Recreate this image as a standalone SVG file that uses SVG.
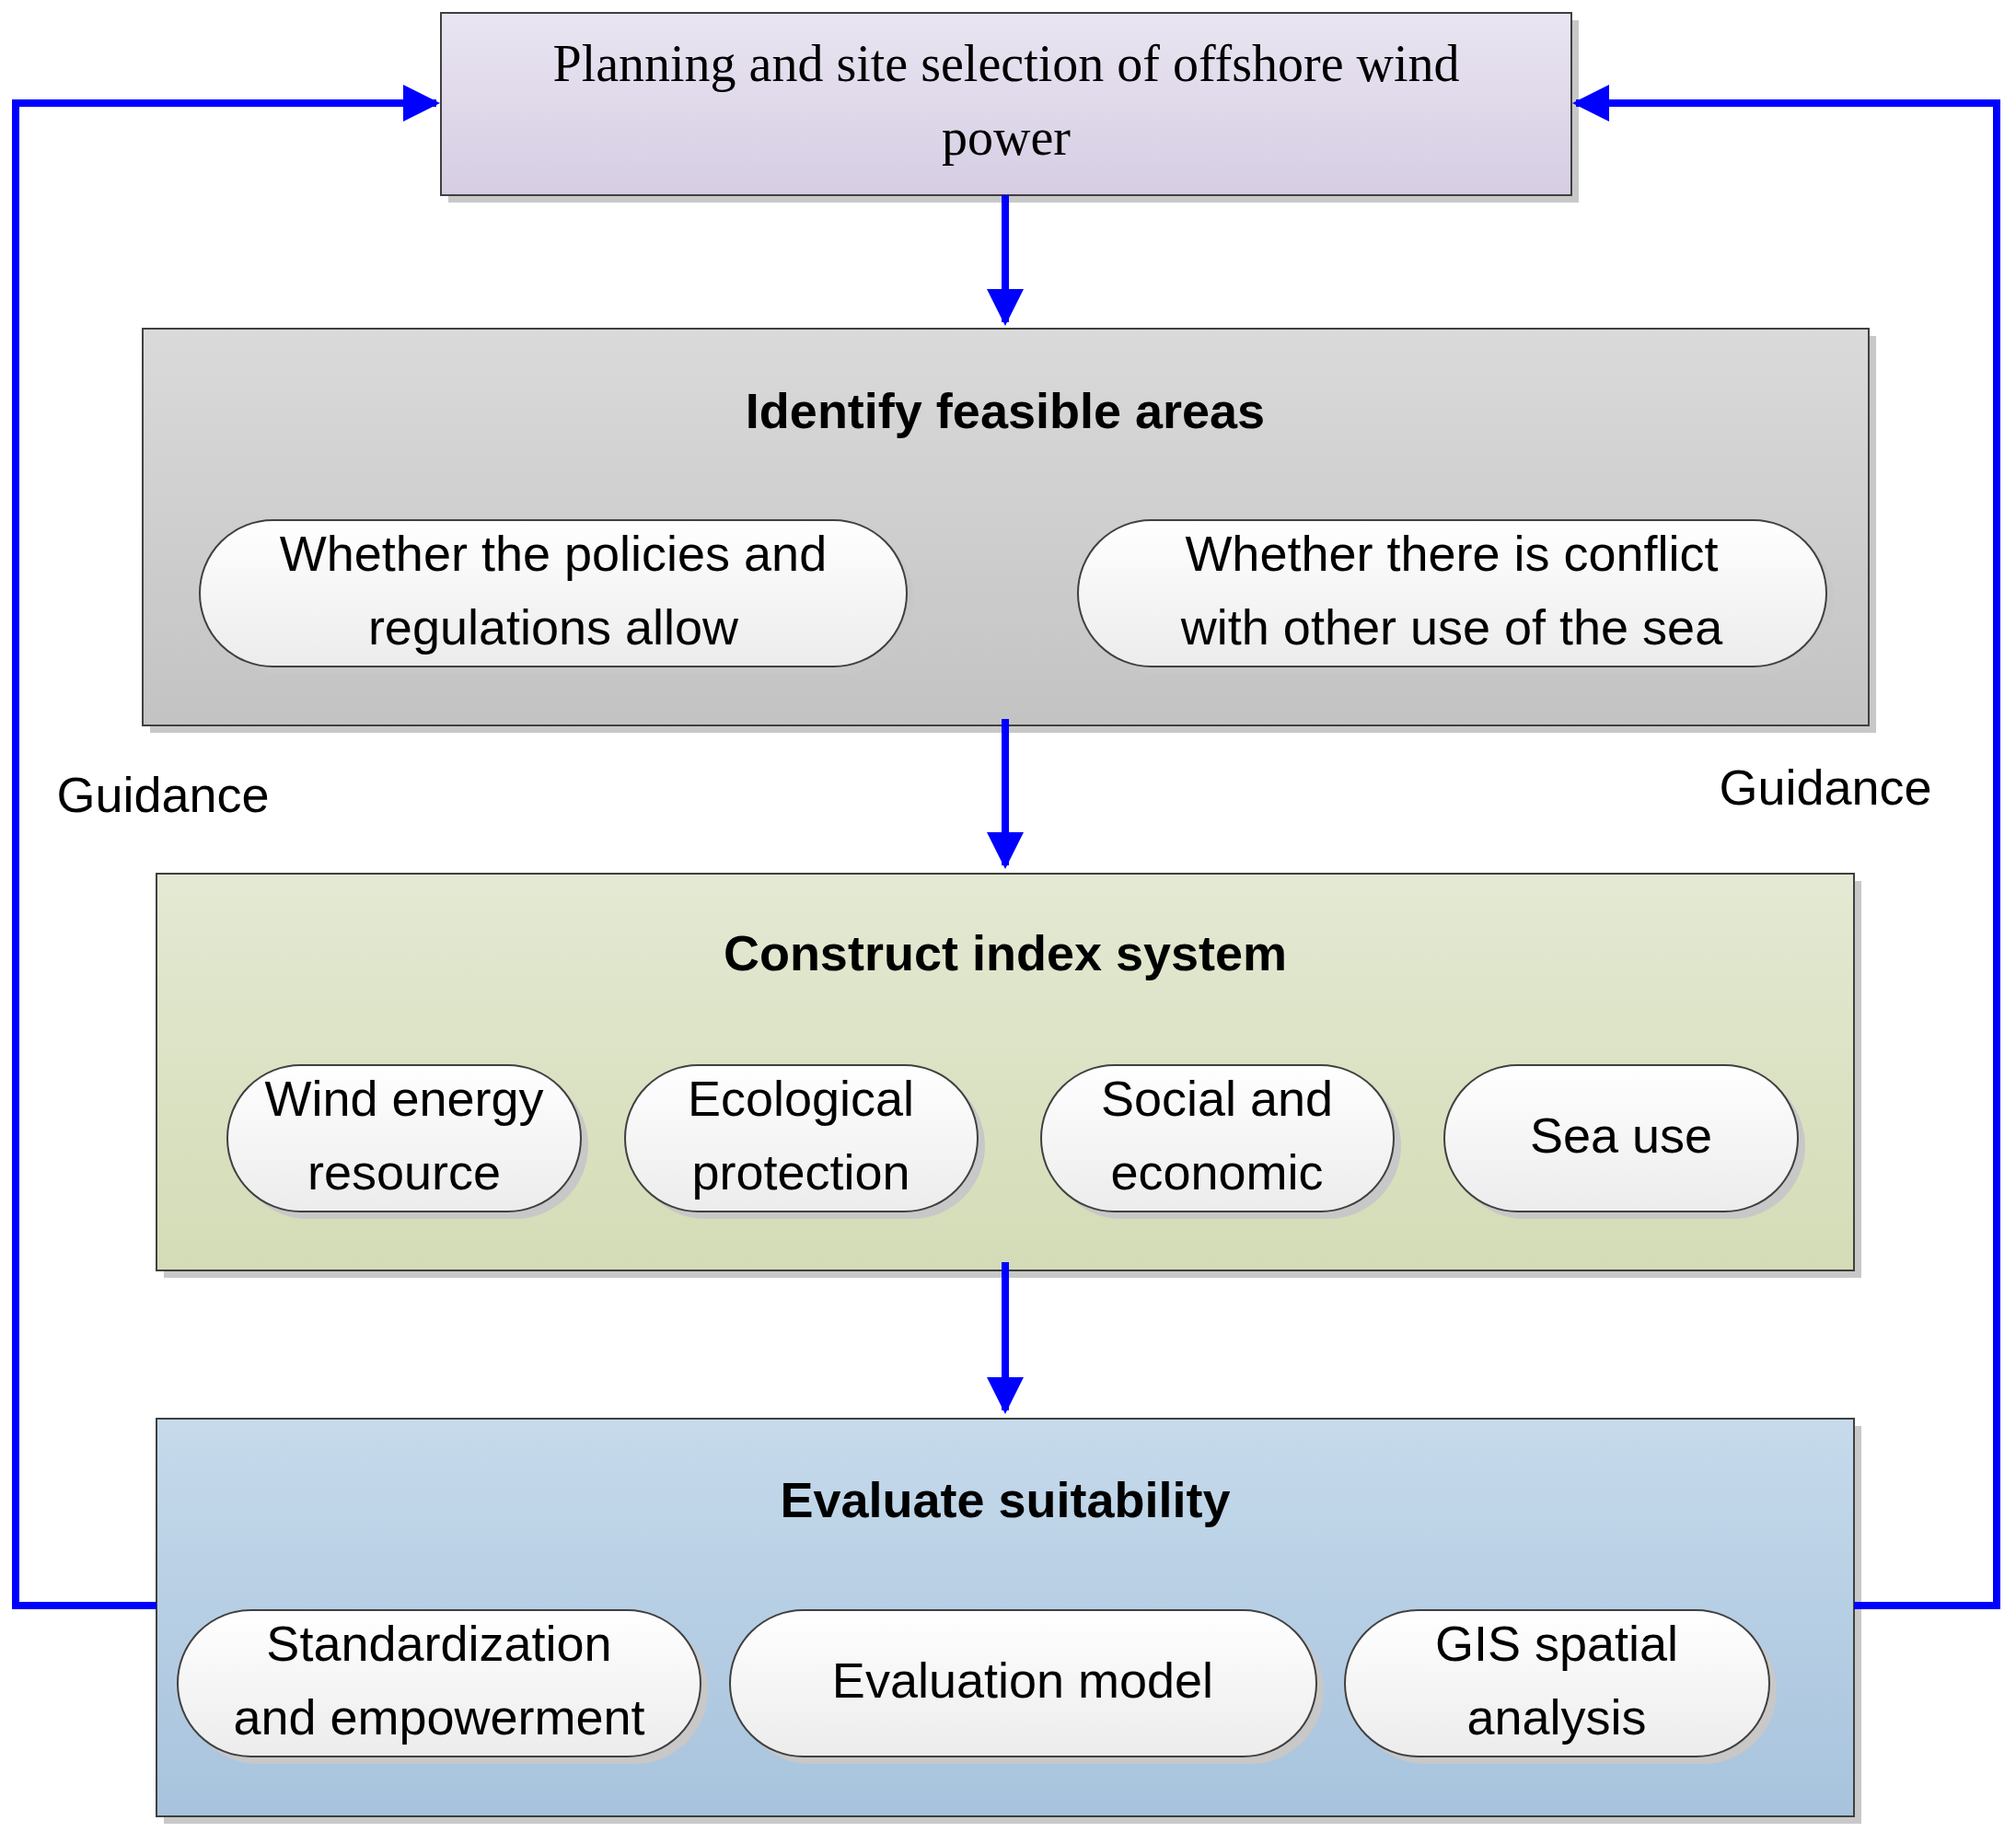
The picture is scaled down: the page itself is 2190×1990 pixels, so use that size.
<svg xmlns="http://www.w3.org/2000/svg" width="2190" height="1990" viewBox="0 0 2190 1990">
<defs>
<linearGradient id="g0" x1="0" y1="0" x2="0" y2="1"><stop offset="0" stop-color="#e9e5f1"/><stop offset="1" stop-color="#d6cde3"/></linearGradient>
<linearGradient id="g1" x1="0" y1="0" x2="0" y2="1"><stop offset="0" stop-color="#dadada"/><stop offset="1" stop-color="#c3c3c3"/></linearGradient>
<linearGradient id="g2" x1="0" y1="0" x2="0" y2="1"><stop offset="0" stop-color="#e4e9d3"/><stop offset="1" stop-color="#d3dcb6"/></linearGradient>
<linearGradient id="g3" x1="0" y1="0" x2="0" y2="1"><stop offset="0" stop-color="#c6daeb"/><stop offset="1" stop-color="#a7c3dd"/></linearGradient>
<linearGradient id="gp" x1="0" y1="0" x2="0" y2="1"><stop offset="0" stop-color="#ffffff"/><stop offset="1" stop-color="#ececec"/></linearGradient>
<marker id="ah" viewBox="0 0 10 10" refX="9" refY="5" markerWidth="5" markerHeight="5" orient="auto" markerUnits="strokeWidth"><path d="M0,0 L10,5 L0,10 z" fill="#0000ff"/></marker>
<style>
.box{stroke:#404040;stroke-width:2}
.sh{fill:#c8c8c8}
.pill{fill:url(#gp);stroke:#404040;stroke-width:2}
.t{font-family:"Liberation Sans",Arial,sans-serif;font-size:54px;fill:#000;text-anchor:middle}
.b{font-family:"Liberation Sans",Arial,sans-serif;font-size:54px;font-weight:bold;fill:#000;text-anchor:middle}
.s{font-family:"Liberation Serif","Times New Roman",serif;font-size:56px;fill:#000;text-anchor:middle}
.c{stroke:#0000ff;stroke-width:8;fill:none}
</style>
</defs>
<g id="n0"><rect class="sh" x="487" y="22" width="1228" height="198"/><rect class="box" x="479" y="14" width="1228" height="198" fill="url(#g0)"/>
<text class="s" x="1093" y="88">Planning and site selection of offshore wind</text><text class="s" x="1093" y="168">power</text></g>
<g id="n1"><rect class="sh" x="163" y="365" width="1875" height="431"/><rect class="box" x="155" y="357" width="1875" height="431" fill="url(#g1)"/>
<text class="b" x="1092" y="465">Identify feasible areas</text>
<rect class="sh" x="225" y="573" width="768" height="159" rx="79.5"/><rect class="pill" x="217" y="565" width="768" height="159" rx="79.5"/>
<text class="t" x="601" y="620">Whether the policies and</text><text class="t" x="601" y="700">regulations allow</text>
<rect class="sh" x="1179" y="573" width="813" height="159" rx="79.5"/><rect class="pill" x="1171" y="565" width="813" height="159" rx="79.5"/>
<text class="t" x="1577" y="620">Whether there is conflict</text><text class="t" x="1577" y="700">with other use of the sea</text></g>
<g id="n2"><rect class="sh" x="178" y="957" width="1844" height="431"/><rect class="box" x="170" y="949" width="1844" height="431" fill="url(#g2)"/>
<text class="b" x="1092" y="1054">Construct index system</text>
<rect class="sh" x="255" y="1165" width="384" height="159" rx="79.5"/><rect class="pill" x="247" y="1157" width="384" height="159" rx="79.5"/>
<text class="t" x="439" y="1212">Wind energy</text><text class="t" x="439" y="1292">resource</text>
<rect class="sh" x="687" y="1165" width="383" height="159" rx="79.5"/><rect class="pill" x="679" y="1157" width="383" height="159" rx="79.5"/>
<text class="t" x="870" y="1212">Ecological</text><text class="t" x="870" y="1292">protection</text>
<rect class="sh" x="1139" y="1165" width="383" height="159" rx="79.5"/><rect class="pill" x="1131" y="1157" width="383" height="159" rx="79.5"/>
<text class="t" x="1322" y="1212">Social and</text><text class="t" x="1322" y="1292">economic</text>
<rect class="sh" x="1577" y="1165" width="384" height="159" rx="79.5"/><rect class="pill" x="1569" y="1157" width="384" height="159" rx="79.5"/>
<text class="t" x="1761" y="1252">Sea use</text></g>
<g id="n3"><rect class="sh" x="178" y="1549" width="1844" height="432"/><rect class="box" x="170" y="1541" width="1844" height="432" fill="url(#g3)"/>
<text class="b" x="1092" y="1648">Evaluate suitability</text>
<rect class="sh" x="201" y="1757" width="568" height="159" rx="79.5"/><rect class="pill" x="193" y="1749" width="568" height="159" rx="79.5"/>
<text class="t" x="477" y="1804">Standardization</text><text class="t" x="477" y="1884">and empowerment</text>
<rect class="sh" x="801" y="1757" width="637" height="159" rx="79.5"/><rect class="pill" x="793" y="1749" width="637" height="159" rx="79.5"/>
<text class="t" x="1111" y="1844">Evaluation model</text>
<rect class="sh" x="1469" y="1757" width="461" height="159" rx="79.5"/><rect class="pill" x="1461" y="1749" width="461" height="159" rx="79.5"/>
<text class="t" x="1691" y="1804">GIS spatial</text><text class="t" x="1691" y="1884">analysis</text></g>
<g id="connectors">
<path class="c" d="M1092,212 L1092,350" marker-end="url(#ah)"/>
<path class="c" d="M1092,781 L1092,940" marker-end="url(#ah)"/>
<path class="c" d="M1092,1371 L1092,1532" marker-end="url(#ah)"/>
<path class="c" d="M170,1744 L17,1744 L17,112 L474,112" marker-end="url(#ah)"/>
<path class="c" d="M2014,1744 L2169,1744 L2169,112 L1712,112" marker-end="url(#ah)"/>
<text class="t" x="177" y="882">Guidance</text>
<text class="t" x="1983" y="874">Guidance</text>
</g>
</svg>
